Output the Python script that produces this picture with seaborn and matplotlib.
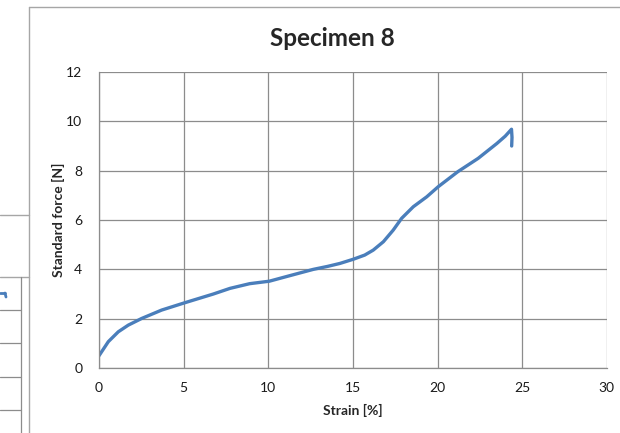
import matplotlib
matplotlib.use('Agg')
import numpy as np
import pandas as pd
import seaborn as sns
import matplotlib.pyplot as plt
from matplotlib.lines import Line2D

# values
strain = [0.0, 0.55, 1.14, 1.73, 2.52, 3.7, 5.08, 6.75, 7.74, 8.9, 10.06,
          11.3, 12.66, 13.5, 14.23, 15.02, 15.7, 16.2, 16.8, 17.38, 17.88,
          18.57, 19.36, 20.04, 21.2, 22.4, 23.5, 24.0, 24.37, 24.4, 24.38]
force = [0.50, 1.07, 1.47, 1.74, 2.01, 2.35, 2.65, 3.00, 3.23, 3.42, 3.52,
         3.75, 4.00, 4.12, 4.24, 4.41, 4.58, 4.78, 5.12, 5.59, 6.07, 6.54,
         6.94, 7.35, 7.96, 8.50, 9.10, 9.40, 9.68, 9.35, 9.00]

df = pd.DataFrame({'Strain [%]': strain, 'Standard force [N]': force})

sns.set_style('white')
plt.rcParams['font.family'] = ['Lato', 'DejaVu Sans']

fig = plt.figure(figsize=(6.2, 4.33), dpi=100)
ax = fig.add_axes([0.1597, 0.150, 0.819, 0.6837])

sns.lineplot(data=df, x='Strain [%]', y='Standard force [N]', ax=ax,
             color='#4a7ebb', linewidth=2.4, sort=False, estimator=None)

ax.set_xlim(0, 30)
ax.set_ylim(0, 12)
ax.set_xticks(range(0, 31, 5))
ax.set_yticks(range(0, 13, 2))
ax.grid(True, color='#8c8c8c', linewidth=0.9)
for s in ['top', 'right']:
    ax.spines[s].set_visible(False)
for s in ['left', 'bottom']:
    ax.spines[s].set_color('#8c8c8c')
    ax.spines[s].set_linewidth(0.9)
ax.tick_params(axis='both', length=4, width=0.9, color='#8c8c8c',
               labelsize=10, labelcolor='#1a1a1a', direction='out')
ax.tick_params(axis='x', pad=6)
ax.tick_params(axis='y', pad=8)
ax.set_xlabel('Strain [%]', fontsize=10, fontweight='bold', labelpad=7)
ax.set_ylabel('Standard force [N]', fontsize=10, fontweight='bold', labelpad=1)
fig.text(332 / 620, 1 - 38 / 433, 'Specimen 8', fontsize=17.5,
         fontweight='bold', ha='center', va='center')

# chart frame and pieces of the neighbouring chart
W, H = 620, 433
def seg(x0, y0, x1, y1, **kw):
    fig.add_artist(Line2D([x0 / W, x1 / W], [1 - y0 / H, 1 - y1 / H],
                          transform=fig.transFigure, **kw))

frame = dict(color='#a6a6a6', linewidth=1.0)
seg(29, 7, 620, 7, **frame)
seg(29, 7, 29, 433, **frame)
seg(0, 215, 29, 215, **frame)
seg(0, 277, 29, 277, **frame)
for y in [310, 343, 377, 410]:
    seg(0, y, 21, y, color='#8c8c8c', linewidth=0.9)
seg(21, 277, 21, 433, color='#8c8c8c', linewidth=0.9)
seg(0, 293, 5, 293, color='#4a7ebb', linewidth=2)
seg(5, 293, 6, 297, color='#4a7ebb', linewidth=2)

fig.savefig('out.png', dpi=100)
